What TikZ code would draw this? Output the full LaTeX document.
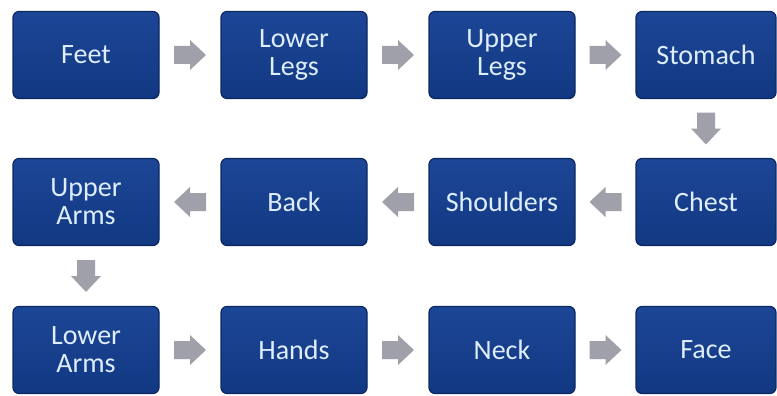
\documentclass[tikz,border=0pt]{standalone}
\usepackage{fontspec}
\setmainfont{Carlito}
\usetikzlibrary{calc}
\definecolor{boxtop}{RGB}{28,70,150}
\definecolor{boxbot}{RGB}{18,56,130}
\definecolor{boxedge}{RGB}{12,40,98}
\definecolor{boxtext}{RGB}{222,238,255}
\definecolor{arrowgray}{RGB}{160,160,170}
\begin{document}
\begin{tikzpicture}[x=1pt,y=-1pt,
  stagebox/.style={rectangle, rounded corners=6pt, draw=boxedge, line width=1.2pt,
    top color=boxtop, bottom color=boxbot, minimum width=146pt, minimum height=87pt,
    text=boxtext, font=\fontsize{28}{28}\selectfont, align=center, inner sep=0pt},
  flowarrow/.style={fill=arrowgray, draw=none}]
\useasboundingbox (0,0) rectangle (777,396);
\newcommand{\blockarrow}[2]{%
  \begin{scope}[shift={#1}, rotate=#2]
    \fill[flowarrow] (-16,-9) -- (0,-9) -- (0,-15) -- (16,0) -- (0,15) -- (0,9) -- (-16,9) -- cycle;
  \end{scope}}
% row 1
\node[stagebox] (feet) at (86,55) {Feet};
\node[stagebox] (lowerlegs) at (294,55) {Lower\\Legs};
\node[stagebox] (upperlegs) at (502,55) {Upper\\Legs};
\node[stagebox, minimum width=140pt] (stomach) at (706,55) {Stomach};
% row 2
\node[stagebox] (upperarms) at (86,202) {Upper\\Arms};
\node[stagebox] (back) at (294,202) {Back};
\node[stagebox] (shoulders) at (502,202) {Shoulders};
\node[stagebox, minimum width=140pt] (chest) at (706,202) {Chest};
% row 3
\node[stagebox] (lowerarms) at (86,350) {Lower\\Arms};
\node[stagebox] (hands) at (294,350) {Hands};
\node[stagebox] (neck) at (502,350) {Neck};
\node[stagebox, minimum width=140pt] (face) at (706,350) {Face};
% arrows
\blockarrow{($(feet.east)!0.5!(lowerlegs.west)$)}{0}
\blockarrow{($(lowerlegs.east)!0.5!(upperlegs.west)$)}{0}
\blockarrow{($(upperlegs.east)!0.5!(stomach.west)$)}{0}
\blockarrow{($(stomach.south)!0.5!(chest.north)$)}{-90}
\blockarrow{($(chest.west)!0.5!(shoulders.east)$)}{180}
\blockarrow{($(shoulders.west)!0.5!(back.east)$)}{180}
\blockarrow{($(back.west)!0.5!(upperarms.east)$)}{180}
\blockarrow{($(upperarms.south)!0.5!(lowerarms.north)$)}{-90}
\blockarrow{($(lowerarms.east)!0.5!(hands.west)$)}{0}
\blockarrow{($(hands.east)!0.5!(neck.west)$)}{0}
\blockarrow{($(neck.east)!0.5!(face.west)$)}{0}
\end{tikzpicture}
\end{document}
